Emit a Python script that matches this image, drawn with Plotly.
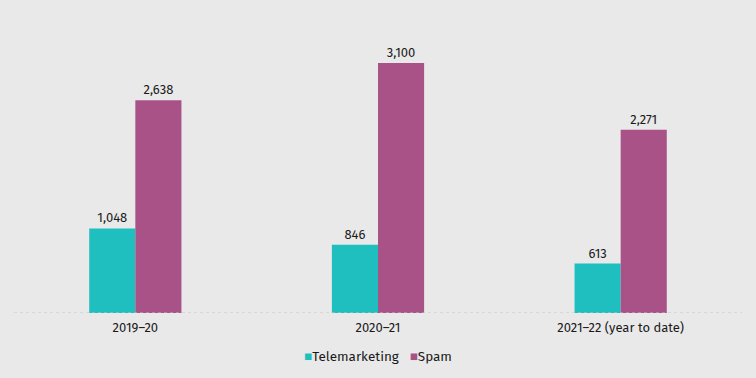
import plotly.graph_objects as go

categories = ["2019\u201320", "2020\u201321", "2021\u201322 (year to date)"]
telemarketing = [1048, 846, 613]
spam = [2638, 3100, 2271]
series_names = ["Telemarketing", "Spam"]

teal = "#1fbfbf"
purple = "#a85288"
bg = "#e9e9e9"
font_family = "Fira Sans, Noto Sans, Open Sans, sans-serif"

fig = go.Figure()
fig.add_trace(go.Bar(
    x=categories, y=telemarketing, name=series_names[0],
    marker=dict(color=teal, line=dict(width=5, color="rgba(0,0,0,0)")),
    text=[f"{v:,}" for v in telemarketing], textposition="outside",
    textfont=dict(size=13, color="#1a1a1a"), cliponaxis=False, showlegend=False,
))
fig.add_trace(go.Bar(
    x=categories, y=spam, name=series_names[1],
    marker=dict(color=purple, line=dict(width=5, color="rgba(0,0,0,0)")),
    text=[f"{v:,}" for v in spam], textposition="outside",
    textfont=dict(size=13, color="#1a1a1a"), cliponaxis=False, showlegend=False,
))

fig.add_shape(type="line", xref="paper", yref="y", x0=0, x1=1, y0=0, y1=0,
              line=dict(color="#c4c4c4", width=1, dash="dot"))

# legend drawn as text with coloured squares
fig.add_annotation(
    xref="paper", yref="paper", x=0.5, y=-0.148, xanchor="center", yanchor="middle",
    showarrow=False, font=dict(size=13.5, color="#1a1a1a"),
    text=(f'<span style="color:{teal}">\u25A0</span>{series_names[0]}'
          f'   <span style="color:{purple}">\u25A0</span>{series_names[1]}'),
)

fig.update_layout(
    width=756, height=378,
    margin=dict(l=14, r=14, t=20, b=65),
    paper_bgcolor=bg, plot_bgcolor=bg,
    font=dict(family=font_family, size=13, color="#1a1a1a"),
    barmode="group", bargap=0.62, bargroupgap=0,
    showlegend=False,
    xaxis=dict(showgrid=False, showline=False, ticks="", tickfont=dict(size=13),
               ticklabelstandoff=5),
    yaxis=dict(visible=False, range=[0, 3633], showgrid=False, zeroline=False),
)

fig.write_html("out.html", config={"displayModeBar": False},
               post_script="document.body.style.margin='0';document.body.style.background='%s';" % bg)
